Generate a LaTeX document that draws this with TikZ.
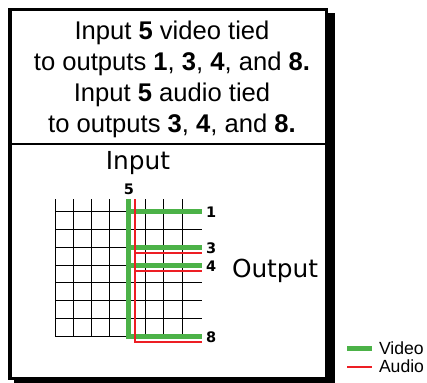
\documentclass[tikz,border=0pt]{standalone}
\usepackage{fontspec}
\setmainfont{Liberation Sans}
\newfontfamily\dejavu{DejaVu Sans}
\usetikzlibrary{positioning}

\definecolor{vgreen}{RGB}{76,178,72}
\definecolor{ared}{RGB}{237,30,36}

\begin{document}
\begin{tikzpicture}[
    x=1bp, y=-1bp,
    every node/.style={inner sep=0pt, outer sep=0pt},
    caption/.style={anchor=base, font=\fontsize{25.6bp}{31bp}\selectfont},
    ioname/.style={font=\dejavu\fontsize{24.8bp}{28bp}\selectfont},
    portnum/.style={font=\dejavu\bfseries\fontsize{14.5bp}{16bp}\selectfont},
    legendtext/.style={font=\fontsize{17.6bp}{20bp}\selectfont},
    gridline/.style={draw=black, line width=0.75bp},
    video/.style={draw=vgreen, line width=5bp},
    audio/.style={draw=ared, line width=2bp}
  ]
  \useasboundingbox (0,0) rectangle (427,383);

  % frame with shadow
  \fill[black] (14,13) rectangle (335,392);
  \draw[line width=3bp, fill=white] (10,9) rectangle (326,378);
  \draw[line width=1.5bp] (10,144) -- (326,144);

  \node[caption] (vline1) at (172,39) {Input \textbf{5} video tied};
  \node[caption] (vline2) at (172,70) {to outputs \textbf{1}, \textbf{3}, \textbf{4}, and \textbf{8.}};
  \node[caption] (aline1) at (172,101) {Input \textbf{5} audio tied};
  \node[caption] (aline2) at (172,132) {to outputs \textbf{3}, \textbf{4}, and \textbf{8.}};

  % crosspoint grid
  \foreach \i in {0,...,7}
    \draw[gridline] ({55+18.14*\i},199) -- ({55+18.14*\i},336);
  \foreach \j in {0,...,7}
    \draw[gridline] (55,{211.7+17.76*\j}) -- (202,{211.7+17.76*\j});

  \coordinate (vin5) at (128,199);
  \coordinate (ain5) at (135,199);
  \coordinate (out1) at (202,211.7);
  \coordinate (out3) at (202,247.2);
  \coordinate (out4) at (202,265);
  \coordinate (out8) at (202,336);
  \coordinate (aout3) at (202,253);
  \coordinate (aout4) at (202,270.8);
  \coordinate (aout8) at (202,342);

  % video ties
  \draw[video] (vin5) |- (out8);
  \draw[video] (vin5 |- out1) -- (out1);
  \draw[video] (vin5 |- out3) -- (out3);
  \draw[video] (vin5 |- out4) -- (out4);

  % audio ties
  \draw[audio] (ain5) |- (aout8);
  \draw[audio] (ain5 |- aout3) -- (aout3);
  \draw[audio] (ain5 |- aout4) -- (aout4);

  \node[portnum, above=4bp of vin5, xshift=1bp] (num5) {5};
  \node[portnum, right=4bp of out1, yshift=-0.5bp] (num1) {1};
  \node[portnum, right=4bp of out3, yshift=-1.5bp] (num3) {3};
  \node[portnum, right=4bp of out4, yshift=-1.5bp] (num4) {4};
  \node[portnum, right=4bp of out8, yshift=-1.5bp] (num8) {8};

  \node[ioname, anchor=base] (inlabel) at (138,169) {Input};
  \node[ioname, anchor=base west] (outlabel) at (232,277) {Output};

  % legend
  \coordinate (vkey) at (347,348.3);
  \coordinate (akey) at (347,366.7);
  \draw[video] (vkey) -- ++(25,0) coordinate (vkeyend);
  \draw[audio] (akey) -- ++(25,0) coordinate (akeyend);
  \node[legendtext, right=7bp of vkeyend] (vlegend) {Video};
  \node[legendtext, right=7bp of akeyend] (alegend) {Audio};
\end{tikzpicture}
\end{document}
